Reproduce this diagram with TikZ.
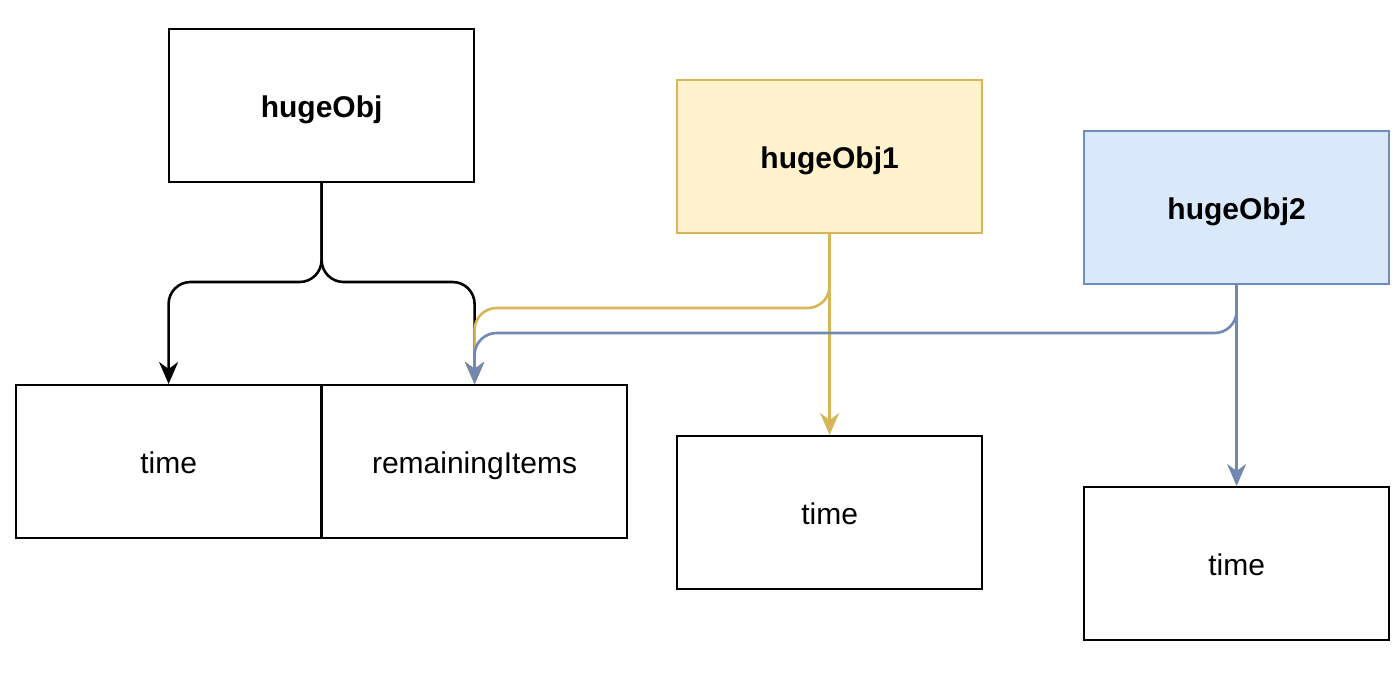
\documentclass[tikz,border=0pt]{standalone}
\usepackage{fontspec}
\setmainfont{Liberation Sans}
\usetikzlibrary{arrows.meta,calc}
\definecolor{yfill}{HTML}{FFF2CC}
\definecolor{ystroke}{HTML}{D6B656}
\definecolor{bfill}{HTML}{DAE8FC}
\definecolor{bstroke}{HTML}{6C8EBF}
\definecolor{bline}{HTML}{7189B0}
\tikzset{
  box/.style={draw=black, line width=2.2pt, minimum width=305pt, minimum height=153pt, inner sep=0pt, text height=24pt, text depth=0pt, font=\fontsize{30}{36}\selectfont, anchor=north west},
  ybox/.style={box, draw=ystroke, fill=yfill},
  bbox/.style={box, draw=bstroke, fill=bfill},
  conn/.style={line width=2.6pt, rounded corners=22pt},
  tip/.style={-{Stealth[length=22pt,width=19pt,inset=7pt]}}
}
\begin{document}
\begin{tikzpicture}[x=1pt,y=-1pt]
\useasboundingbox (0,0) rectangle (1400,672);
\node[box] (h) at (168,28) {\textbf{hugeObj}};
\node[box] (t0) at (15,384) {time};
\node[box] (r0) at (321,384) {remainingItems};
\node[ybox] (h1) at (676,79) {\textbf{hugeObj1}};
\node[box] (t1) at (676,435) {time};
\node[bbox] (h2) at (1083,130) {\textbf{hugeObj2}};
\node[box] (t2) at (1083,486) {time};
% black connectors
\draw[conn,tip,black] (h.south) -- (h.south |- 0,282) -- (t0.north |- 0,282) -- (t0.north);
\draw[conn,tip,black] (h.south) -- (h.south |- 0,282) -- (r0.north |- 0,282) -- (r0.north);
% yellow connectors
\draw[conn,tip,ystroke] (h1.south) -- (h1.south |- 0,308) -- (r0.north |- 0,308) -- (r0.north);
\draw[conn,tip,ystroke] (h1.south) -- (t1.north);
% blue connectors
\draw[conn,tip,bline] (h2.south) -- (h2.south |- 0,333) -- (r0.north |- 0,333) -- (r0.north);
\draw[conn,tip,bline] (h2.south) -- (t2.north);
\end{tikzpicture}
\end{document}
